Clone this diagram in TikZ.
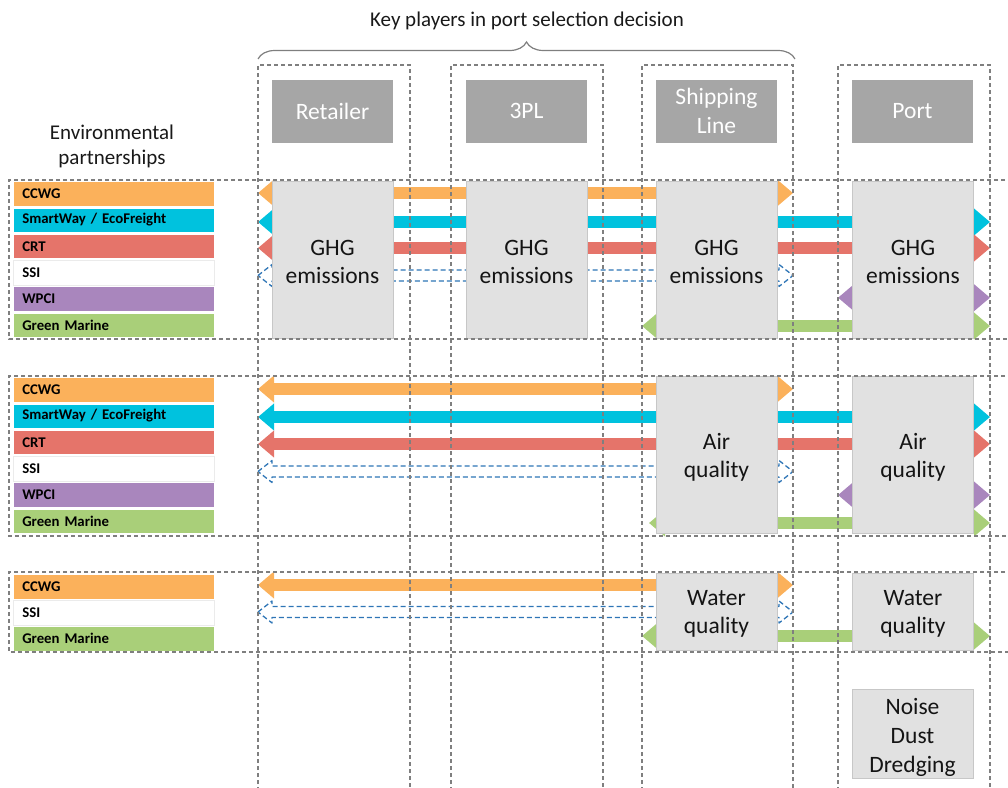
\documentclass[tikz,border=0pt]{standalone}
\usepackage{fontspec}
\setmainfont{Carlito}
\usetikzlibrary{arrows.meta,decorations.pathreplacing}
\definecolor{ccwg}{HTML}{FBB15B}
\definecolor{smart}{HTML}{00C2DE}
\definecolor{crt}{HTML}{E5746A}
\definecolor{wpci}{HTML}{A986BD}
\definecolor{gm}{HTML}{A9CF79}
\definecolor{ssi}{HTML}{2E75B6}
\definecolor{dashgray}{HTML}{7F7F7F}
\definecolor{boxgray}{HTML}{E1E1E1}
\definecolor{hdrgray}{HTML}{A6A6A6}
\newcommand\ssiarrow[3]{%
  \draw[ssiline] (#1,#3) -- (#1+14,#3-11) -- (#1+14,#3-5.5) -- (#2-14,#3-5.5) -- (#2-14,#3-11)
    -- (#2,#3) -- (#2-14,#3+11) -- (#2-14,#3+5.5) -- (#1+14,#3+5.5) -- (#1+14,#3+11) -- cycle;}
\begin{document}
\begin{tikzpicture}[x=1pt,y=-1pt,
  dline/.style={draw=dashgray, line width=1.4pt, dash pattern=on 4pt off 3pt},
  colnode/.style={anchor=north west, minimum height=740pt, inner sep=0pt, outer sep=0pt},
  blknode/.style={anchor=north west, minimum width=1010pt, inner sep=0pt, outer sep=0pt},
  hdr/.style={fill=hdrgray, text=white, minimum width=121pt, minimum height=63pt,
    font=\fontsize{23.5}{29}\selectfont, align=center, inner sep=0pt},
  topic/.style={fill=boxgray, draw=black!22, line width=0.6pt, minimum width=121pt, inner sep=0pt},
  ttext/.style={text=black!92, font=\fontsize{23.5}{28.5}\selectfont, align=center, inner sep=0pt, yshift=-2.5pt},
  lbl/.style={anchor=west, text width=183pt, align=left, inner xsep=9pt, inner ysep=0pt,
    minimum height=24.5pt, draw=white, line width=0.5pt, font=\fontsize{14.8}{16}\selectfont\bfseries},
  blockarrow/.style={line width=12pt, {Triangle[length=16pt,width=26pt]}-{Triangle[length=16pt,width=26pt]}},
  ssiline/.style={draw=ssi, fill=white, line width=1.3pt, dash pattern=on 5pt off 3pt, line join=round}
]
\useasboundingbox (0,0) rectangle (1008,787);
% invisible frames
\node[colnode, minimum width=152pt] (colret) at (258,65) {};
\node[colnode, minimum width=152pt] (coltpl) at (451,65) {};
\node[colnode, minimum width=151pt] (colship) at (642,65) {};
\node[colnode, minimum width=152pt] (colport) at (838,65) {};
\node[blknode, minimum height=159pt] (blkA) at (9,180) {};
\node[blknode, minimum height=160pt] (blkB) at (9,376) {};
\node[blknode, minimum height=80pt] (blkC) at (9,572) {};

% labels
\node[lbl, fill=ccwg] (a1) at (13,193.7) {CCWG};
\node[lbl, fill=smart] (a2) at (13,220) {SmartWay / EcoFreight};
\node[lbl, fill=crt] (a3) at (13,246.3) {CRT};
\node[lbl, fill=white, draw=black!8] (a4) at (13,272.5) {SSI};
\node[lbl, fill=wpci] (a5) at (13,298.7) {WPCI};
\node[lbl, fill=gm] (a6) at (13,325) {Green Marine};
\node[lbl, fill=ccwg] (b1) at (13,389.7) {CCWG};
\node[lbl, fill=smart] (b2) at (13,416) {SmartWay / EcoFreight};
\node[lbl, fill=crt] (b3) at (13,442.3) {CRT};
\node[lbl, fill=white, draw=black!8] (b4) at (13,468.5) {SSI};
\node[lbl, fill=wpci] (b5) at (13,494.7) {WPCI};
\node[lbl, fill=gm] (b6) at (13,521) {Green Marine};
\node[lbl, fill=ccwg, minimum height=25pt] (c1) at (13,586.5) {CCWG};
\node[lbl, fill=white, draw=black!8, minimum height=25pt] (c2) at (13,612.5) {SSI};
\node[lbl, fill=gm, minimum height=25pt] (c3) at (13,638.5) {Green Marine};

% arrows block A
\draw[blockarrow, ccwg] (colret.west |- 0,193) -- (colship.east |- 0,193);
\draw[blockarrow, smart] (colret.west |- 0,222) -- (colport.east |- 0,222);
\draw[blockarrow, crt] (colret.west |- 0,248) -- (colport.east |- 0,248);
\ssiarrow{258}{793}{275.5}
\draw[blockarrow, wpci] (colport.west |- 0,297.7) -- (colport.east |- 0,297.7);
\draw[blockarrow, gm] (colship.west |- 0,326) -- (colport.east |- 0,326);
% arrows block B
\draw[blockarrow, ccwg] (colret.west |- 0,389) -- (colship.east |- 0,389);
\draw[blockarrow, smart] (colret.west |- 0,417) -- (colport.east |- 0,417);
\draw[blockarrow, crt] (colret.west |- 0,444) -- (colport.east |- 0,444);
\ssiarrow{258}{793}{471.5}
\draw[blockarrow, wpci] (colport.west |- 0,495) -- (colport.east |- 0,495);
\draw[blockarrow, gm] ([xshift=7pt]colship.west |- 0,523) -- (colport.east |- 0,523);
% arrows block C
\draw[blockarrow, ccwg] (colret.west |- 0,585) -- (colship.east |- 0,585);
\ssiarrow{258}{793}{612}
\draw[blockarrow, gm] (colship.west |- 0,636) -- (colport.east |- 0,636);

% topic boxes
\node[topic, minimum height=157pt, label={[ttext]center:{GHG\\emissions}}] (ghg1) at (332.5,259.5) {};
\node[topic, minimum height=157pt, label={[ttext]center:{GHG\\emissions}}] (ghg2) at (526.5,259.5) {};
\node[topic, minimum height=157pt, label={[ttext]center:{GHG\\emissions}}] (ghg3) at (716.5,259.5) {};
\node[topic, minimum height=157pt, label={[ttext]center:{GHG\\emissions}}] (ghg4) at (913,259.5) {};
\node[topic, minimum height=157pt, label={[ttext]center:{Air\\quality}}] (air1) at (716.5,455) {};
\node[topic, minimum height=157pt, label={[ttext]center:{Air\\quality}}] (air2) at (913,455) {};
\node[topic, minimum height=77pt, label={[ttext]center:{Water\\quality}}] (wat1) at (716.5,611.5) {};
\node[topic, minimum height=77pt, label={[ttext]center:{Water\\quality}}] (wat2) at (913,611.5) {};
\node[topic, minimum height=89pt, label={[ttext, font=\fontsize{23.5}{29}\selectfont, yshift=-1.5pt]center:{Noise\\Dust\\Dredging}}] (noise) at (912.5,733.5) {};

% headers
\node[hdr] (retailer) at (332.5,111) {Retailer};
\node[hdr] (tpl) at (526.5,111) {3PL};
\node[hdr] (ship) at (716.5,111) {Shipping\\Line};
\node[hdr] (port) at (912.5,111) {Port};

% dashed frames
\foreach \c in {colret,coltpl,colship,colport}{
  \draw[dline] (\c.south west) -- (\c.north west) -- (\c.north east) -- (\c.south east);
}
\foreach \b in {blkA,blkB,blkC}{
  \draw[dline] (\b.north east) -- (\b.north west) -- (\b.south west) -- (\b.south east);
}

% brace and titles
\draw[dashgray, line width=1.2pt, decorate, decoration={brace, amplitude=17pt}] (colret.north west |- 0,59) -- (795,59);
\node[font=\fontsize{21}{25}\selectfont, text=black!90] (title) at (527,21) {Key players in port selection decision};
\node[font=\fontsize{21}{25}\selectfont, text=black!90, align=center] (env) at (112,146) {Environmental\\partnerships};
\end{tikzpicture}
\end{document}
